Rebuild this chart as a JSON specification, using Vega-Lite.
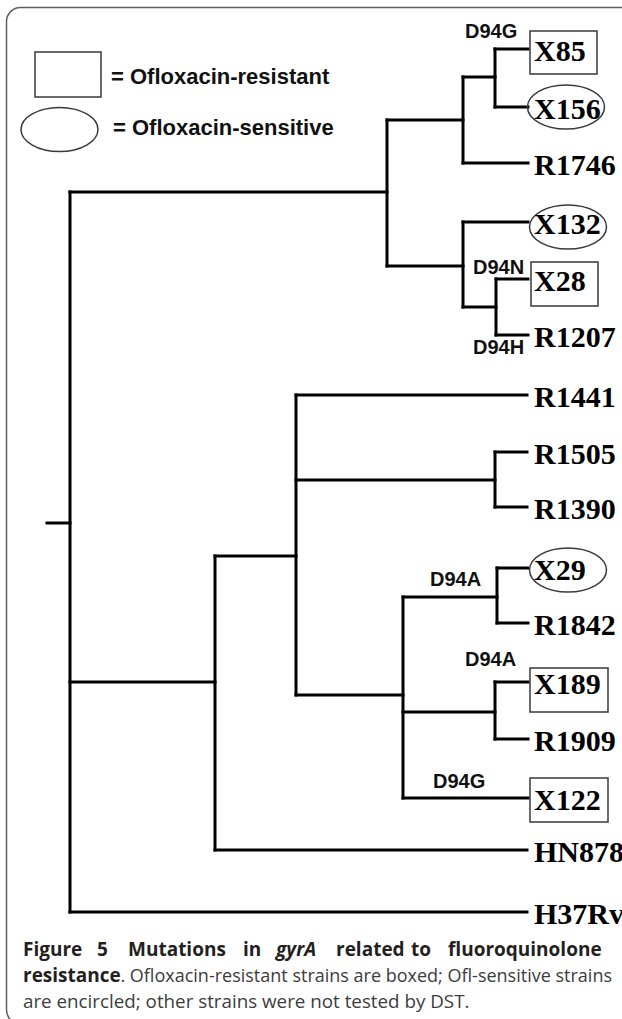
{
  "$schema": "https://vega.github.io/schema/vega-lite/v6.json",
  "width": 622,
  "height": 1019,
  "autosize": {"type": "none"},
  "padding": 0,
  "background": "white",
  "config": {"view": {"stroke": null}},
  "datasets": {
    "frame": [{"x": 6.5, "x2": 700, "y": 7.5, "y2": 1024}],
    "branches": [
      {"x": 47, "x2": 70, "y": 523, "y2": 523},
      {"x": 70, "x2": 70, "y": 192, "y2": 912},
      {"x": 70, "x2": 387, "y": 192, "y2": 192},
      {"x": 387, "x2": 387, "y": 120, "y2": 266},
      {"x": 387, "x2": 463, "y": 120, "y2": 120},
      {"x": 463, "x2": 463, "y": 77, "y2": 163},
      {"x": 463, "x2": 495, "y": 77, "y2": 77},
      {"x": 495, "x2": 495, "y": 49, "y2": 107},
      {"x": 495, "x2": 528, "y": 49, "y2": 49},
      {"x": 495, "x2": 528, "y": 107, "y2": 107},
      {"x": 463, "x2": 528, "y": 163, "y2": 163},
      {"x": 387, "x2": 463, "y": 266, "y2": 266},
      {"x": 463, "x2": 463, "y": 222, "y2": 307},
      {"x": 463, "x2": 528, "y": 222, "y2": 222},
      {"x": 463, "x2": 496, "y": 307, "y2": 307},
      {"x": 496, "x2": 496, "y": 279, "y2": 335},
      {"x": 496, "x2": 528, "y": 279, "y2": 279},
      {"x": 496, "x2": 528, "y": 335, "y2": 335},
      {"x": 70, "x2": 215, "y": 682, "y2": 682},
      {"x": 215, "x2": 215, "y": 556, "y2": 850},
      {"x": 215, "x2": 296, "y": 556, "y2": 556},
      {"x": 296, "x2": 296, "y": 395, "y2": 695},
      {"x": 296, "x2": 527, "y": 395, "y2": 395},
      {"x": 296, "x2": 495, "y": 480, "y2": 480},
      {"x": 495, "x2": 495, "y": 452, "y2": 507},
      {"x": 495, "x2": 527, "y": 452, "y2": 452},
      {"x": 495, "x2": 527, "y": 507, "y2": 507},
      {"x": 296, "x2": 403, "y": 695, "y2": 695},
      {"x": 403, "x2": 403, "y": 597, "y2": 798},
      {"x": 403, "x2": 497, "y": 597, "y2": 597},
      {"x": 497, "x2": 497, "y": 568, "y2": 623},
      {"x": 497, "x2": 528, "y": 568, "y2": 568},
      {"x": 497, "x2": 528, "y": 623, "y2": 623},
      {"x": 403, "x2": 495, "y": 712, "y2": 712},
      {"x": 495, "x2": 495, "y": 682, "y2": 739},
      {"x": 495, "x2": 528, "y": 682, "y2": 682},
      {"x": 495, "x2": 528, "y": 739, "y2": 739},
      {"x": 403, "x2": 528, "y": 798, "y2": 798},
      {"x": 215, "x2": 527, "y": 850, "y2": 850},
      {"x": 70, "x2": 527, "y": 912, "y2": 912}
    ],
    "boxes": [
      {"x": 35, "x2": 101, "y": 52, "y2": 97},
      {"x": 530, "x2": 597, "y": 31, "y2": 74},
      {"x": 531, "x2": 598, "y": 262, "y2": 306},
      {"x": 530, "x2": 608, "y": 668, "y2": 712},
      {"x": 530, "x2": 608, "y": 778, "y2": 822}
    ],
    "ellipses": [
      {"x": 59.5, "y": 129.5},
      {"x": 566, "y": 107},
      {"x": 568, "y": 227},
      {"x": 568, "y": 570}
    ],
    "leaves": [
      {"label": "X85", "x": 534, "y": 49},
      {"label": "X156", "x": 534, "y": 107},
      {"label": "R1746", "x": 534, "y": 163},
      {"label": "X132", "x": 534, "y": 222},
      {"label": "X28", "x": 534, "y": 279},
      {"label": "R1207", "x": 534, "y": 335},
      {"label": "R1441", "x": 534, "y": 395},
      {"label": "R1505", "x": 534, "y": 452},
      {"label": "R1390", "x": 534, "y": 507},
      {"label": "X29", "x": 534, "y": 568},
      {"label": "R1842", "x": 534, "y": 623},
      {"label": "X189", "x": 534, "y": 682},
      {"label": "R1909", "x": 534, "y": 739},
      {"label": "X122", "x": 534, "y": 798},
      {"label": "HN878", "x": 534, "y": 850},
      {"label": "H37Rv", "x": 534, "y": 912}
    ],
    "mutations": [
      {"label": "D94G", "x": 465, "y": 32},
      {"label": "D94N", "x": 473, "y": 268},
      {"label": "D94H", "x": 473, "y": 348},
      {"label": "D94A", "x": 430, "y": 580},
      {"label": "D94A", "x": 465, "y": 660},
      {"label": "D94G", "x": 433, "y": 782}
    ],
    "legendText": [
      {"label": "= Ofloxacin-resistant", "x": 111, "y": 77},
      {"label": "= Ofloxacin-sensitive", "x": 113, "y": 128}
    ],
    "capBold": [
      {"label": "Figure", "x": 23, "y": 956},
      {"label": "5", "x": 97, "y": 956},
      {"label": "Mutations", "x": 128, "y": 956},
      {"label": "in", "x": 243, "y": 956},
      {"label": "related", "x": 336, "y": 956},
      {"label": "to", "x": 411, "y": 956},
      {"label": "fluoroquinolone", "x": 448, "y": 956},
      {"label": "resistance", "x": 23, "y": 982}
    ],
    "capItalic": [
      {"label": "gyrA", "x": 276, "y": 956}
    ],
    "capRight": [
      {"label": ". Ofloxacin-resistant strains are boxed; Ofl-sensitive strains", "x": 612, "y": 982}
    ],
    "capLeft": [
      {"label": "are encircled; other strains were not tested by DST.", "x": 23, "y": 1008}
    ]
  },
  "layer": [
    {
      "data": {"name": "frame"},
      "mark": {"type": "rect", "fill": "transparent", "stroke": "#5f5f5f", "strokeWidth": 1.5, "cornerRadius": 14, "clip": true},
      "encoding": {
        "x": {"field": "x", "type": "quantitative", "scale": {"domain": [0, 622], "nice": false, "zero": false}, "axis": null},
        "x2": {"field": "x2"},
        "y": {"field": "y", "type": "quantitative", "scale": {"domain": [0, 1019], "nice": false, "zero": false, "reverse": true}, "axis": null},
        "y2": {"field": "y2"}
      }
    },
    {
      "data": {"name": "branches"},
      "mark": {"type": "rule", "color": "black", "strokeWidth": 3, "strokeCap": "square"},
      "encoding": {
        "x": {"field": "x", "type": "quantitative", "axis": null},
        "x2": {"field": "x2"},
        "y": {"field": "y", "type": "quantitative", "axis": null},
        "y2": {"field": "y2"}
      }
    },
    {
      "data": {"name": "boxes"},
      "mark": {"type": "rect", "fill": "transparent", "stroke": "#3a3a3a", "strokeWidth": 1.5},
      "encoding": {
        "x": {"field": "x", "type": "quantitative", "axis": null},
        "x2": {"field": "x2"},
        "y": {"field": "y", "type": "quantitative", "axis": null},
        "y2": {"field": "y2"}
      }
    },
    {
      "data": {"name": "ellipses"},
      "mark": {"type": "point", "filled": false, "stroke": "#3a3a3a", "strokeWidth": 1.5, "opacity": 1, "size": 5929,
        "shape": "M -1 0 C -1 -0.3155 -0.5523 -0.5714 0 -0.5714 C 0.5523 -0.5714 1 -0.3155 1 0 C 1 0.3155 0.5523 0.5714 0 0.5714 C -0.5523 0.5714 -1 0.3155 -1 0 Z"},
      "encoding": {
        "x": {"field": "x", "type": "quantitative", "axis": null},
        "y": {"field": "y", "type": "quantitative", "axis": null}
      }
    },
    {
      "data": {"name": "leaves"},
      "mark": {"type": "text", "font": "Liberation Serif", "fontWeight": "bold", "fontSize": 30, "align": "left", "baseline": "middle", "dy": 3, "color": "black", "clip": true},
      "encoding": {
        "x": {"field": "x", "type": "quantitative", "axis": null},
        "y": {"field": "y", "type": "quantitative", "axis": null},
        "text": {"field": "label"}
      }
    },
    {
      "data": {"name": "mutations"},
      "mark": {"type": "text", "font": "Liberation Sans", "fontWeight": "bold", "fontSize": 20, "align": "left", "baseline": "middle", "color": "#111"},
      "encoding": {
        "x": {"field": "x", "type": "quantitative", "axis": null},
        "y": {"field": "y", "type": "quantitative", "axis": null},
        "text": {"field": "label"}
      }
    },
    {
      "data": {"name": "legendText"},
      "mark": {"type": "text", "font": "Liberation Sans", "fontWeight": "bold", "fontSize": 22, "align": "left", "baseline": "middle", "color": "#111"},
      "encoding": {
        "x": {"field": "x", "type": "quantitative", "axis": null},
        "y": {"field": "y", "type": "quantitative", "axis": null},
        "text": {"field": "label"}
      }
    },
    {
      "data": {"name": "capBold"},
      "mark": {"type": "text", "font": "Open Sans", "fontWeight": "bold", "fontSize": 19, "align": "left", "baseline": "alphabetic", "color": "#231f20"},
      "encoding": {
        "x": {"field": "x", "type": "quantitative", "axis": null},
        "y": {"field": "y", "type": "quantitative", "axis": null},
        "text": {"field": "label"}
      }
    },
    {
      "data": {"name": "capItalic"},
      "mark": {"type": "text", "font": "Open Sans", "fontWeight": "bold", "fontStyle": "italic", "fontSize": 19, "align": "left", "baseline": "alphabetic", "color": "#231f20"},
      "encoding": {
        "x": {"field": "x", "type": "quantitative", "axis": null},
        "y": {"field": "y", "type": "quantitative", "axis": null},
        "text": {"field": "label"}
      }
    },
    {
      "data": {"name": "capRight"},
      "mark": {"type": "text", "font": "Open Sans", "fontSize": 18, "align": "right", "baseline": "alphabetic", "color": "#3c3c3c"},
      "encoding": {
        "x": {"field": "x", "type": "quantitative", "axis": null},
        "y": {"field": "y", "type": "quantitative", "axis": null},
        "text": {"field": "label"}
      }
    },
    {
      "data": {"name": "capLeft"},
      "mark": {"type": "text", "font": "Open Sans", "fontSize": 18.8, "align": "left", "baseline": "alphabetic", "color": "#3c3c3c"},
      "encoding": {
        "x": {"field": "x", "type": "quantitative", "axis": null},
        "y": {"field": "y", "type": "quantitative", "axis": null},
        "text": {"field": "label"}
      }
    }
  ]
}
